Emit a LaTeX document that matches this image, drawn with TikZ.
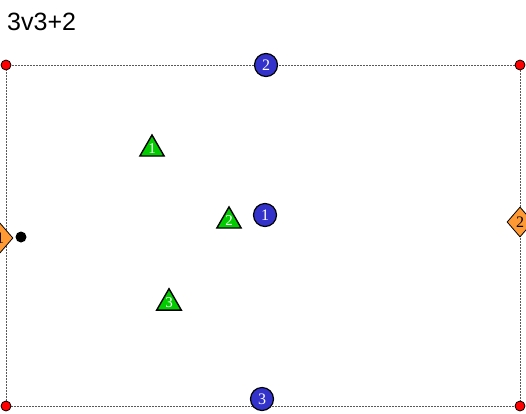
\documentclass[tikz,border=0pt]{standalone}
\usepackage{fontspec}
\setmainfont{Liberation Serif}
\newfontfamily\titlefont{Liberation Sans}
\usetikzlibrary{shapes.geometric}
\definecolor{pblue}{RGB}{51,51,204}
\definecolor{pgreen}{RGB}{0,204,0}
\definecolor{porange}{RGB}{255,153,51}
\tikzset{
  corner/.style={circle,draw=black,fill=red,line width=0.8pt,minimum size=10pt,inner sep=0pt},
  bluedot/.style={circle,draw=black,fill=pblue,line width=1.2pt,minimum size=23pt,inner sep=0pt,text=white,font=\fontsize{16}{16}\selectfont},
  tri/.style={regular polygon,regular polygon sides=3,draw=black,fill=pgreen,line width=1.4pt,minimum size=28pt,inner sep=0pt,text=white,font=\fontsize{15}{15}\selectfont},
  dia/.style={diamond,draw=black,fill=porange,line width=0.8pt,minimum width=26pt,minimum height=30pt,inner sep=0pt,font=\fontsize{16}{16}\selectfont},
  border/.style={draw=black!65,line width=1pt,dash pattern=on 2pt off 1pt},
  blackdot/.style={circle,fill=black,minimum size=11pt,inner sep=0pt}
}
\begin{document}
\begin{tikzpicture}[x=1pt,y=-1pt]
\useasboundingbox (0,0) rectangle (526,413);
\node[anchor=base west,font=\titlefont\fontsize{25}{25}\selectfont,inner sep=0pt] (title) at (7,30) {3v3+2};
\coordinate (c1) at (6,65);
\coordinate (c2) at (520,65);
\coordinate (c3) at (520,406);
\coordinate (c4) at (6,406);
\draw[border] (c1) -- (c2) -- (c3) -- (c4) -- cycle;
\node[dia] (d1) at (0,238) {1};
\node[dia] (d2) at (520,222) {2};
\node[blackdot] (bd) at (21,237) {};
\node[corner] (r1) at (c1) {};
\node[corner] (r2) at (c2) {};
\node[corner] (r3) at (c3) {};
\node[corner] (r4) at (c4) {};
\node[bluedot] (b1) at (265,215) {1};
\node[bluedot] (b2) at (266,65) {2};
\node[bluedot] (b3) at (262,399) {3};
\node[tri] (t1) at (152,149) {\raisebox{-4pt}{1}};
\node[tri] (t2) at (229,221) {\raisebox{-4pt}{2}};
\node[tri] (t3) at (169,303) {\raisebox{-4pt}{3}};
\end{tikzpicture}
\end{document}
